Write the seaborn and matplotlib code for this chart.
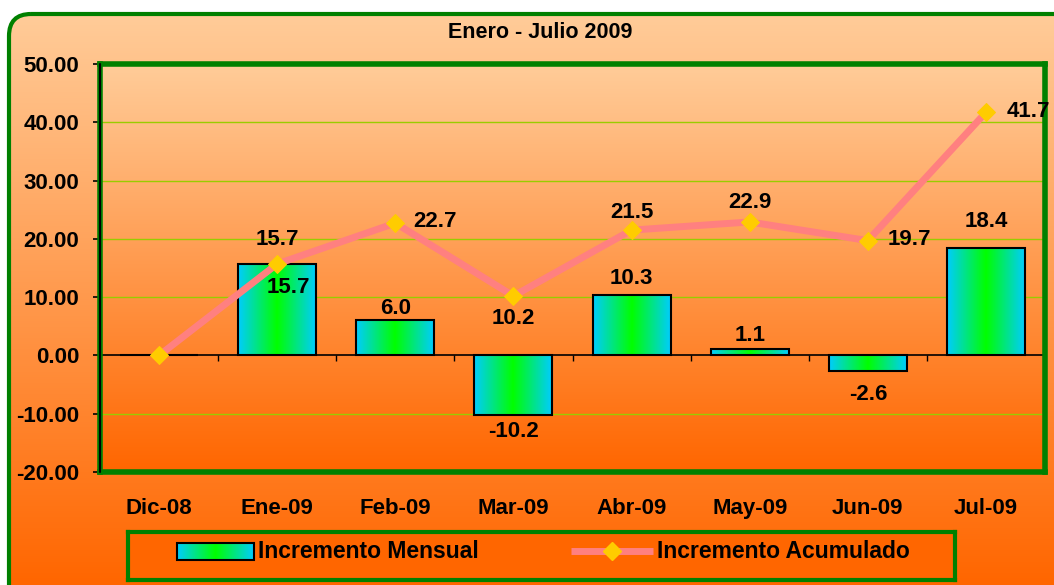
import numpy as np
import pandas as pd
import seaborn as sns
import matplotlib.pyplot as plt
from matplotlib.colors import LinearSegmentedColormap
from matplotlib.patches import FancyBboxPatch, Rectangle

# data
meses = ['Dic-08', 'Ene-09', 'Feb-09', 'Mar-09', 'Abr-09', 'May-09', 'Jun-09', 'Jul-09']
mensual = [0.0, 15.7, 6.0, -10.2, 10.3, 1.1, -2.6, 18.4]
acumulado = [0.0, 15.7, 22.7, 10.2, 21.5, 22.9, 19.7, 41.7]
y_ticks = [-20, -10, 0, 10, 20, 30, 40, 50]

# label offsets in pixels (dx, dy, ha), None = no label
bar_lbl_off = [None, (11, -24, 'center'), (0, 12, 'center'), (0, -17, 'center'),
               (0, 17, 'center'), (0, 14, 'center'), (0, -24, 'center'), (0, 27, 'center')]
line_lbl_off = [None, (0, 24, 'center'), (18, 2, 'left'), (0, -23, 'center'),
                (0, 18, 'center'), (0, 19, 'center'), (20, 1, 'left'), (21, 1, 'left')]

sns.set_style('white')
plt.rcParams['font.family'] = ['Liberation Sans', 'DejaVu Sans']
plt.rcParams['font.weight'] = 'bold'
plt.rcParams['text.color'] = 'black'
plt.rcParams['xtick.color'] = 'black'
plt.rcParams['ytick.color'] = 'black'
plt.rcParams['axes.labelcolor'] = 'black'

W, H = 1054, 585
fig = plt.figure(figsize=(W / 100, H / 100), dpi=100, facecolor='white')

orange_grad = LinearSegmentedColormap.from_list('og', ['#FFCC99', '#FF6600'])
bar_grad = LinearSegmentedColormap.from_list('bg', ['#00CCFF', '#00FF00', '#00CCFF'])
vgrad = np.linspace(0, 1, 256).reshape(-1, 1)
hgrad = np.linspace(0, 1, 256).reshape(1, -1)

# outer rounded frame with gradient
bg = fig.add_axes([0, 0, 1, 1])
bg.set_xlim(0, W)
bg.set_ylim(H, 0)
bg.axis('off')
frame = FancyBboxPatch((9, 14), 1080, 620, boxstyle='round,pad=0,rounding_size=22',
                       facecolor='none', edgecolor='#008000', lw=3)
bg.add_patch(frame)
im = bg.imshow(vgrad, cmap=orange_grad, extent=(0, W, H, 13), aspect='auto', zorder=0)
im.set_clip_path(frame)
bg.set_xlim(0, W)
bg.set_ylim(H, 0)

fig.text(540 / W, 1 - 33 / H, 'Enero - Julio 2009', ha='center', va='center',
         fontsize=15.5, fontweight='bold', color='black')

# plot area
ax = fig.add_axes([100 / W, (H - 472) / H, 945 / W, 408 / H])
ax.imshow(vgrad, cmap=orange_grad, extent=(-0.5, 7.5, -20, 50), aspect='auto', zorder=0)

df = pd.DataFrame({'mes': meses, 'mensual': mensual, 'acumulado': acumulado})
sns.barplot(data=df, x='mes', y='mensual', ax=ax, width=0.66, facecolor='none',
            edgecolor='black', linewidth=1.5, zorder=3)

for p in ax.patches:
    x0, y0 = p.get_x(), p.get_y()
    w, h = p.get_width(), p.get_height()
    if abs(h) < 1e-9:
        continue
    gi = ax.imshow(hgrad, cmap=bar_grad, extent=(x0, x0 + w, min(y0, y0 + h), max(y0, y0 + h)),
                   aspect='auto', zorder=2.5)
    gi.set_clip_path(p)

sns.lineplot(x=np.arange(len(meses)), y=acumulado, ax=ax, color='#FF8080', lw=5,
             marker='D', markersize=9, markerfacecolor='#FFCC00', markeredgecolor='#FFCC00',
             zorder=4)

for yv in y_ticks:
    if yv in (-20, 50):
        continue
    if yv == 0:
        ax.axhline(0, color='black', lw=1.2, zorder=2)
    else:
        ax.axhline(yv, color='#99CC00', lw=1, zorder=1)
ax.vlines(np.arange(0.5, len(meses)), -1.0, 0, color='black', lw=1, zorder=2)

ax.set_xlim(-0.5, 7.5)
ax.set_ylim(-20, 50)
ax.set_yticks(y_ticks)
ax.set_yticklabels([f'{v:.2f}' for v in y_ticks])
ax.set_xticks(range(len(meses)))
ax.set_xticklabels(meses)
ax.tick_params(axis='y', length=5, width=1.2, color='black', direction='out',
               labelsize=16, pad=10, left=True, labelcolor='black')
ax.tick_params(axis='x', length=0, labelsize=16, pad=19, labelcolor='black')
for lab in ax.get_xticklabels() + ax.get_yticklabels():
    lab.set_fontweight('bold')
ax.set_xlabel('')
ax.set_ylabel('')
for s in ax.spines.values():
    s.set_color('#008000')
    s.set_linewidth(4)
ax.plot([-0.5, -0.5], [-20, 50], color='black', lw=1.5, clip_on=False, zorder=5,
        transform=ax.transData)
ax.set_xlim(-0.5, 7.5)

for i, (v, off) in enumerate(zip(mensual, bar_lbl_off)):
    if off is None:
        continue
    dx, dy, ha = off
    ax.annotate(f'{v:.1f}', (i, v), xytext=(dx, dy), textcoords='offset pixels',
                ha=ha, va='center', fontsize=16, fontweight='bold', color='black', zorder=6)
for i, (v, off) in enumerate(zip(acumulado, line_lbl_off)):
    if off is None:
        continue
    dx, dy, ha = off
    ax.annotate(f'{v:.1f}', (i, v), xytext=(dx, dy), textcoords='offset pixels',
                ha=ha, va='center', fontsize=16, fontweight='bold', color='black', zorder=6,
                annotation_clip=False)

# legend box
lg = fig.add_axes([128 / W, (H - 580) / H, 827 / W, 48 / H])
lg.set_xlim(128, 955)
lg.set_ylim(580, 532)
lg.set_facecolor('#FF6600')
lg.set_xticks([])
lg.set_yticks([])
for s in lg.spines.values():
    s.set_color('#008000')
    s.set_linewidth(3)
rect = Rectangle((177, 543), 77, 17, facecolor='none', edgecolor='black', lw=1.5, zorder=3)
lg.add_patch(rect)
li = lg.imshow(hgrad, cmap=bar_grad, extent=(177, 254, 560, 543), aspect='auto', zorder=2)
li.set_clip_path(rect)
lg.text(258, 551, 'Incremento Mensual', ha='left', va='center', fontsize=16.5,
        fontweight='bold', color='black')
lg.plot([571, 653], [551, 551], color='#FF8080', lw=5, solid_capstyle='butt')
lg.plot([612], [551], marker='D', markersize=9, color='#FFCC00', ls='none')
lg.text(657, 551, 'Incremento Acumulado', ha='left', va='center', fontsize=16.5,
        fontweight='bold', color='black')
lg.set_xlim(128, 955)
lg.set_ylim(580, 532)

fig.savefig('out.png', dpi=100)
